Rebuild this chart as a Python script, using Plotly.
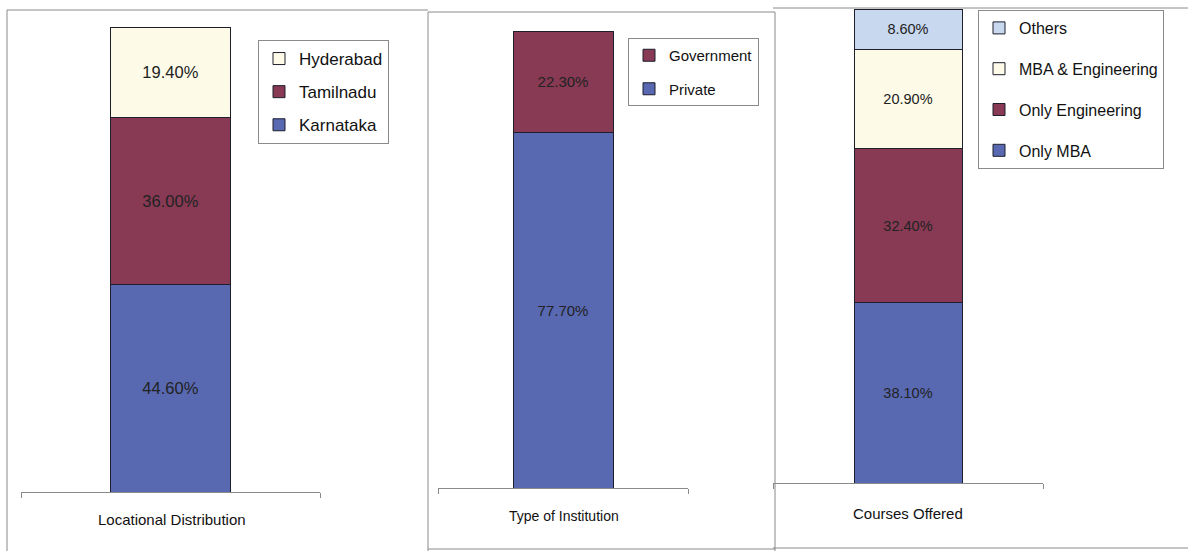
import plotly.graph_objects as go

W, H = 1188, 551

# ---- data -------------------------------------------------------------
loc_names = ["Karnataka", "Tamilnadu", "Hyderabad"]
loc_values = [44.6, 36.0, 19.4]

inst_names = ["Private", "Government"]
inst_values = [77.7, 22.3]

course_names = ["Only MBA", "Only Engineering", "MBA & Engineering", "Others"]
course_values = [38.1, 32.4, 20.9, 8.6]

panel_titles = ["Locational Distribution", "Type of Institution", "Courses Offered"]

# ---- styling ----------------------------------------------------------
BLUE = "#5869b2"
MAROON = "#883a55"
CREAM = "#fdfbe8"
LIGHTBLUE = "#c8d8ef"
EDGE = "#1e1e2c"
FRAME = "#8a8a8a"
FONT = "Liberation Sans, Arial, sans-serif"

def px_x(x):
    return x / W

def px_y(y):
    return 1 - y / H

panels = [
    dict(names=loc_names, values=loc_values, colors=[BLUE, MAROON, CREAM],
         xdom=(21, 320), ydom=(492, 27), legend=(258, 40), lsize=17,
         gap=8, tsize=16.5, title=(172, 519, 15)),
    dict(names=inst_names, values=inst_values, colors=[BLUE, MAROON],
         xdom=(438, 688), ydom=(488, 31), legend=(628, 38), lsize=15,
         gap=11, tsize=15, title=(564, 516, 14)),
    dict(names=course_names, values=course_values,
         colors=[BLUE, MAROON, CREAM, LIGHTBLUE],
         xdom=(773, 1043), ydom=(483, 9), legend=(978, 10), lsize=16,
         gap=17, tsize=14.5, title=(908, 513, 15)),
]

fig = go.Figure()
layout = dict(width=W, height=H, autosize=False,
              margin=dict(l=0, r=0, t=0, b=0),
              paper_bgcolor="white", plot_bgcolor="rgba(0,0,0,0)",
              barmode="stack", showlegend=True, annotations=[], shapes=[])

for i, p in enumerate(panels, start=1):
    xa = "x" if i == 1 else f"x{i}"
    ya = "y" if i == 1 else f"y{i}"
    lg = "legend" if i == 1 else f"legend{i}"
    for k, (name, val, col) in enumerate(zip(p["names"], p["values"], p["colors"])):
        fig.add_trace(go.Bar(
            x=[0], y=[val], name=name, width=0.4,
            marker=dict(color=col, line=dict(color=EDGE, width=1)),
            text=[f"{val:.2f}%"], textposition="inside",
            insidetextanchor="middle", constraintext="none",
            textfont=dict(family=FONT, size=p["tsize"], color="#222222"),
            xaxis=xa, yaxis=ya, legend=lg,
            legendgroup=f"{i}-{k}", legendrank=1000 - k,
            hoverinfo="skip",
        ))
    key = "" if i == 1 else str(i)
    layout[f"xaxis{key}"] = dict(
        domain=[px_x(p["xdom"][0]), px_x(p["xdom"][1])], range=[-0.5, 0.5],
        anchor=ya, showline=True, linecolor=FRAME, linewidth=1,
        tickvals=[-0.5, 0.5], ticks="outside", ticklen=5, tickcolor=FRAME,
        showticklabels=False, showgrid=False, zeroline=False, fixedrange=True)
    layout[f"yaxis{key}"] = dict(
        domain=[px_y(p["ydom"][0]), px_y(p["ydom"][1])], range=[0, 100],
        anchor=xa, visible=False, fixedrange=True)
    layout[lg] = dict(
        x=px_x(p["legend"][0]), y=px_y(p["legend"][1]),
        xanchor="left", yanchor="top", bgcolor="white",
        bordercolor=FRAME, borderwidth=1, itemwidth=30,
        tracegroupgap=p["gap"], traceorder="grouped",
        font=dict(family=FONT, size=p["lsize"], color="#111111"),
        itemclick=False, itemdoubleclick=False)
    tx, ty, ts = p["title"]
    layout["annotations"].append(dict(
        text=panel_titles[i - 1], x=px_x(tx), y=px_y(ty),
        xref="paper", yref="paper", showarrow=False,
        xanchor="center", yanchor="middle",
        font=dict(family=FONT, size=ts, color="#111111")))

# panel frames (open on the right for the last panel)
frame_lines = [
    (7, 10, 428, 10), (7, 10, 7, 551), (428, 12, 428, 551),
    (428, 12, 775, 12), (428, 549, 775, 549), (775, 12, 775, 551),
    (773, 8, 1188, 8), (773, 548, 1188, 548),
]
for x0, y0, x1, y1 in frame_lines:
    layout["shapes"].append(dict(
        type="line", xref="paper", yref="paper",
        x0=px_x(x0), x1=px_x(x1), y0=px_y(y0), y1=px_y(y1),
        line=dict(color=FRAME, width=1), layer="below"))

fig.update_layout(**layout)
fig.write_html("out.html")
